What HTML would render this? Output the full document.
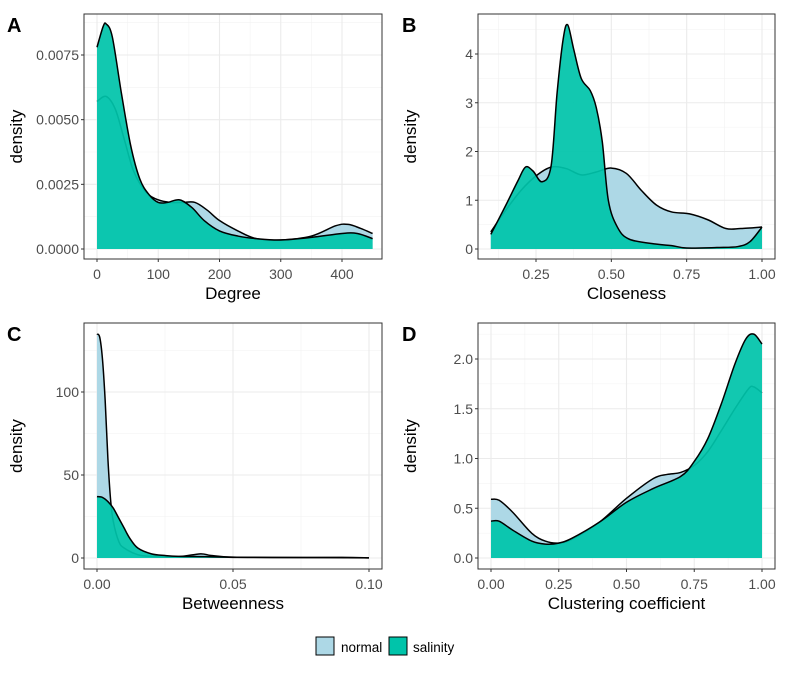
<!DOCTYPE html>
<html><head><meta charset="utf-8"><style>
body{margin:0;background:#fff;font-family:"Liberation Sans",sans-serif}
svg text{font-family:"Liberation Sans",sans-serif}
</style></head><body>
<svg id="fig" width="790" height="669" viewBox="0 0 790 669" xmlns="http://www.w3.org/2000/svg"></svg>
<script>
// Panel A: Degree
const degX = [0,10,15,25,40,55,70,85,100,115,135,155,175,200,230,260,300,350,400,425,450];
const degSal = [0.0078,0.0086,0.0087,0.0082,0.0060,0.0040,0.0027,0.0021,0.0018,0.0018,0.0019,0.0016,0.0011,0.0007,0.0005,0.0004,0.00035,0.00045,0.0006,0.0006,0.0004];
const degNormX = [0,15,30,45,60,80,100,120,140,160,180,200,230,260,300,350,390,410,430,450];
const degNorm = [0.0057,0.0059,0.0054,0.0042,0.0030,0.0022,0.0019,0.0018,0.0018,0.0018,0.0015,0.0011,0.0007,0.0004,0.00035,0.0005,0.0009,0.00095,0.0008,0.0006];
const degTicksX = [0,100,200,300,400];
const degTicksY = [0,0.0025,0.005,0.0075];
const degTickLabY = ["0.0000","0.0025","0.0050","0.0075"];
// Panel B: Closeness
const cloSalX = [0.10,0.15,0.19,0.215,0.24,0.27,0.30,0.32,0.34,0.355,0.375,0.40,0.43,0.45,0.47,0.49,0.52,0.56,0.65,0.70,0.75,0.85,0.92,0.96,1.0];
const cloSal = [0.3,0.9,1.4,1.68,1.6,1.38,1.7,3.2,4.3,4.6,4.1,3.5,3.25,2.9,2.2,1.0,0.45,0.2,0.1,0.07,0.02,0.03,0.05,0.15,0.45];
const cloNormX = [0.10,0.15,0.20,0.25,0.30,0.35,0.40,0.45,0.50,0.55,0.60,0.65,0.70,0.76,0.82,0.88,0.93,1.0];
const cloNorm = [0.35,0.8,1.2,1.5,1.68,1.65,1.52,1.58,1.66,1.55,1.2,0.9,0.76,0.72,0.6,0.42,0.42,0.45];
const cloTicksX = [0.25,0.5,0.75,1.0];
const cloTickLabX = ["0.25","0.50","0.75","1.00"];
const cloTicksY = [0,1,2,3,4];
// Panel C: Betweenness
const btwNormX = [0,0.001,0.002,0.003,0.004,0.005,0.006,0.008,0.01,0.015,0.02,0.03,0.038,0.042,0.05,0.07,0.09,0.1];
const btwNorm = [135,133,120,95,60,35,22,10,6,2,1,0.8,2.5,1.5,0.5,0.3,0.4,0.1];
const btwSalX = [0,0.002,0.004,0.006,0.008,0.01,0.012,0.015,0.02,0.025,0.03,0.04,0.05,0.07,0.1];
const btwSal = [37,36.5,34,30,24,18,12,6,2.5,1.5,1,0.8,0.4,0.3,0.1];
const btwTicksX = [0,0.05,0.1];
const btwTickLabX = ["0.00","0.05","0.10"];
const btwTicksY = [0,50,100];
// Panel D: Clustering coefficient
const cluSalX = [0,0.03,0.08,0.15,0.2,0.25,0.3,0.4,0.5,0.6,0.7,0.75,0.8,0.85,0.9,0.94,0.97,1.0];
const cluSal = [0.37,0.37,0.28,0.17,0.14,0.15,0.2,0.36,0.56,0.7,0.82,0.97,1.2,1.55,1.95,2.2,2.25,2.15];
const cluNormX = [0,0.03,0.08,0.15,0.2,0.25,0.3,0.4,0.5,0.6,0.65,0.7,0.75,0.8,0.85,0.9,0.95,0.97,1.0];
const cluNorm = [0.59,0.58,0.46,0.25,0.17,0.15,0.19,0.36,0.6,0.8,0.84,0.86,0.93,1.07,1.28,1.5,1.7,1.72,1.66];
const cluTicksX = [0,0.25,0.5,0.75,1.0];
const cluTickLabX = ["0.00","0.25","0.50","0.75","1.00"];
const cluTicksY = [0,0.5,1,1.5,2];
const cluTickLabY = ["0.0","0.5","1.0","1.5","2.0"];

const NS="http://www.w3.org/2000/svg";
const svg=document.getElementById('fig');
function mk(tag,attrs,parent){const e=document.createElementNS(NS,tag);for(const k in attrs)e.setAttribute(k,attrs[k]);(parent||svg).appendChild(e);return e;}
function smooth(pts){let d='M'+pts[0][0].toFixed(2)+','+pts[0][1].toFixed(2);
 for(let i=0;i<pts.length-1;i++){const p0=pts[i-1]||pts[i],p1=pts[i],p2=pts[i+1],p3=pts[i+2]||p2;
  const c1=[p1[0]+(p2[0]-p0[0])/6,p1[1]+(p2[1]-p0[1])/6],c2=[p2[0]-(p3[0]-p1[0])/6,p2[1]-(p3[1]-p1[1])/6];
  d+=' C'+c1[0].toFixed(2)+','+c1[1].toFixed(2)+' '+c2[0].toFixed(2)+','+c2[1].toFixed(2)+' '+p2[0].toFixed(2)+','+p2[1].toFixed(2);}
 return d;}
function panel(cfg){
 const g=mk('g',{});
 
 
 const sx=v=>cfg.px0+(v-cfg.x0)/(cfg.x1-cfg.x0)*(cfg.px1-cfg.px0);
 const sy=v=>cfg.py0+(v-cfg.y0)/(cfg.y1-cfg.y0)*(cfg.py1-cfg.py0);
 const B=cfg.box;
 mk('rect',{x:B[0],y:B[1],width:B[2]-B[0],height:B[3]-B[1],fill:'#fff'},g);
 cfg.minorX.forEach(v=>mk('line',{x1:sx(v),x2:sx(v),y1:B[1],y2:B[3],stroke:'#f2f2f2','stroke-width':0.6},g));
 cfg.minorY.forEach(v=>mk('line',{y1:sy(v),y2:sy(v),x1:B[0],x2:B[2],stroke:'#f2f2f2','stroke-width':0.6},g));
 cfg.tx.forEach(v=>mk('line',{x1:sx(v),x2:sx(v),y1:B[1],y2:B[3],stroke:'#ebebeb','stroke-width':1.1},g));
 cfg.ty.forEach(v=>mk('line',{y1:sy(v),y2:sy(v),x1:B[0],x2:B[2],stroke:'#ebebeb','stroke-width':1.1},g));
 function series(xs,ys,fill,op,nm){
  const pts=xs.map((x,i)=>[sx(x),sy(ys[i])]);
  const line=smooth(pts);
  const base=sy(0);
  const a=mk('path',{d:line+' L'+pts[pts.length-1][0]+','+base+' L'+pts[0][0]+','+base+' Z',fill:fill,'fill-opacity':op},g);
  
  
  const l=mk('path',{d:line,fill:'none',stroke:'#000','stroke-width':1.5},g);
  
  
 }
 series(cfg.nx,cfg.ny,'#add8e6',1,'normal-density');
 series(cfg.sx,cfg.sy,'#00c4aa',0.93,'salinity-density');
 mk('rect',{x:B[0],y:B[1],width:B[2]-B[0],height:B[3]-B[1],fill:'none',stroke:'#333','stroke-width':1},g);
 cfg.tx.forEach((v,i)=>{mk('line',{x1:sx(v),x2:sx(v),y1:B[3],y2:B[3]+3,stroke:'#333'},g);
  const t=mk('text',{x:sx(v),y:B[3]+20,'text-anchor':'middle','font-size':14,fill:'#4d4d4d'},g);t.textContent=cfg.lx[i];
  
  });
 cfg.ty.forEach((v,i)=>{mk('line',{y1:sy(v),y2:sy(v),x1:B[0]-3,x2:B[0],stroke:'#333'},g);
  const t=mk('text',{x:B[0]-5,y:sy(v)+5,'text-anchor':'end','font-size':14,fill:'#4d4d4d'},g);t.textContent=cfg.ly[i];
  
  });
 const xt=mk('text',{x:(B[0]+B[2])/2,y:B[3]+40,'text-anchor':'middle','font-size':17,fill:'#000'},g);xt.textContent=cfg.xlab;
 
 
 const yt=mk('text',{x:0,y:0,'text-anchor':'middle','font-size':17,fill:'#000',transform:'translate('+(cfg.ytx)+','+((B[1]+B[3])/2)+') rotate(-90)'},g);yt.textContent='density';
 
 
 const tg=mk('text',{x:cfg.tagx,y:B[1]+18,'font-size':20,'font-weight':'bold',fill:'#000'},g);tg.textContent=cfg.tag;
 
 
}
panel({name:'panel-a-degree',tag:'A',tagx:7,box:[84,14,382,259],x0:0,x1:400,px0:97,px1:342,y0:0,y1:0.0075,py0:249,py1:55,
 tx:degTicksX,lx:degTicksX.map(String),ty:degTicksY,ly:degTickLabY,minorX:[50,150,250,350],minorY:[0.00125,0.00375,0.00625,0.00875],
 nx:degNormX,ny:degNorm,sx:degX,sy:degSal,xlab:'Degree',ytx:22});
panel({name:'panel-b-closeness',tag:'B',tagx:402,box:[478,14,775,259],x0:0.25,x1:1,px0:536,px1:762,y0:0,y1:4,py0:249,py1:54,
 tx:cloTicksX,lx:cloTickLabX,ty:cloTicksY,ly:cloTicksY.map(String),minorX:[0.125,0.375,0.625,0.875],minorY:[0.5,1.5,2.5,3.5,4.5],
 nx:cloNormX,ny:cloNorm,sx:cloSalX,sy:cloSal,xlab:'Closeness',ytx:416});
panel({name:'panel-c-betweenness',tag:'C',tagx:7,box:[84,323,382,569],x0:0,x1:0.1,px0:97,px1:369,y0:0,y1:100,py0:558,py1:392,
 tx:btwTicksX,lx:btwTickLabX,ty:btwTicksY,ly:btwTicksY.map(String),minorX:[0.025,0.075],minorY:[25,75,125],
 nx:btwNormX,ny:btwNorm,sx:btwSalX,sy:btwSal,xlab:'Betweenness',ytx:22});
panel({name:'panel-d-clustering',tag:'D',tagx:402,box:[478,323,775,569],x0:0,x1:1,px0:491,px1:762,y0:0,y1:2,py0:558,py1:359,
 tx:cluTicksX,lx:cluTickLabX,ty:cluTicksY,ly:cluTickLabY,minorX:[0.125,0.375,0.625,0.875],minorY:[0.25,0.75,1.25,1.75,2.25],
 nx:cluNormX,ny:cluNorm,sx:cluSalX,sy:cluSal,xlab:'Clustering coefficient',ytx:416});
// legend
const lg=mk('g',{});


const k1=mk('rect',{x:316,y:637,width:18,height:18,fill:'#add8e6',stroke:'#000','stroke-width':1},lg);


const t1=mk('text',{x:341,y:652,'font-size':13.5,fill:'#000'},lg);t1.textContent='normal';


const k2=mk('rect',{x:389,y:637,width:18,height:18,fill:'#00c4aa',stroke:'#000','stroke-width':1},lg);


const t2=mk('text',{x:413,y:652,'font-size':13.5,fill:'#000'},lg);t2.textContent='salinity';


</script>
</body></html>
